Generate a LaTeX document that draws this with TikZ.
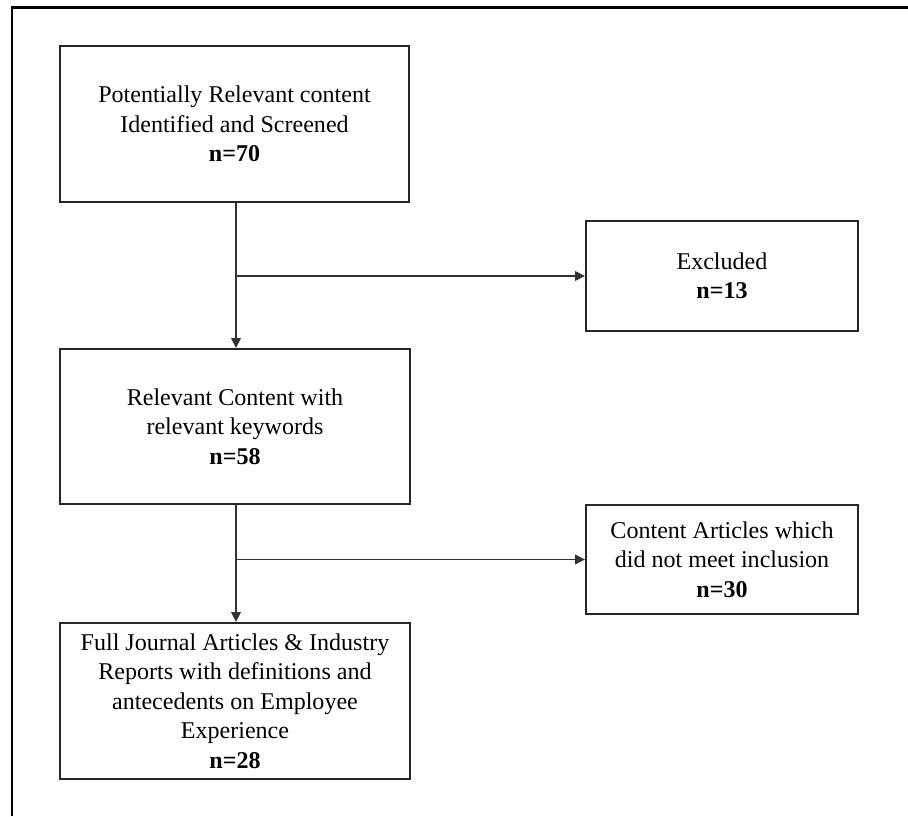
\documentclass[tikz,border=0pt]{standalone}
\usepackage{fontspec}
\setmainfont{Liberation Serif}
\usetikzlibrary{arrows.meta}

\tikzset{
  stagebox/.style={draw=black!85, line width=1.6pt, align=center, inner sep=0pt,
    font=\fontsize{17.1}{21}\selectfont},
  flowline/.style={draw=black!80, line width=0.8pt, -{Triangle[length=7pt,width=7pt]}}
}

\begin{document}
\begin{tikzpicture}[x=0.025cm,y=-0.025cm]
		%%%%% START %%%%%
		\useasboundingbox (0,0) rectangle (908,816);
		\draw[line width=1.6pt] (12,816) -- (12,7.5) -- (908,7.5);
		
		\node[stagebox, minimum width=349*0.025cm, minimum height=156*0.025cm] (identified) at (234.5,124)
		  {Potentially Relevant content\\Identified and Screened\\\textbf{n=70}};
		\node[stagebox, minimum width=272*0.025cm, minimum height=110*0.025cm] (excluded) at (722,276)
		  {Excluded\\\textbf{n=13}};
		\node[stagebox, minimum width=350*0.025cm, minimum height=155*0.025cm] (keywords) at (235,426.5)
		  {Relevant Content with\\relevant keywords\\\textbf{n=58}};
		\node[stagebox, minimum width=272*0.025cm, minimum height=109*0.025cm] (notmet) at (722,559.5)
		  {Content Articles which\\did not meet inclusion\\\textbf{n=30}};
		\node[stagebox, minimum width=350*0.025cm, minimum height=156*0.025cm] (fulltext) at (235,701)
		  {Full Journal Articles \& Industry\\Reports with definitions and\\antecedents on Employee\\Experience\\\textbf{n=28}};
		
		\coordinate (split1) at (236,276);
		\coordinate (split2) at (236,559.5);
		
		\draw[flowline] (identified.south -| split1) -- (keywords.north -| split1);
		\draw[flowline] (split1) -- (excluded.west);
		\draw[flowline] (keywords.south -| split2) -- (fulltext.north -| split2);
		\draw[flowline] (split2) -- (notmet.west);
		%%%%% END %%%%%
	\end{tikzpicture}
\end{document}
